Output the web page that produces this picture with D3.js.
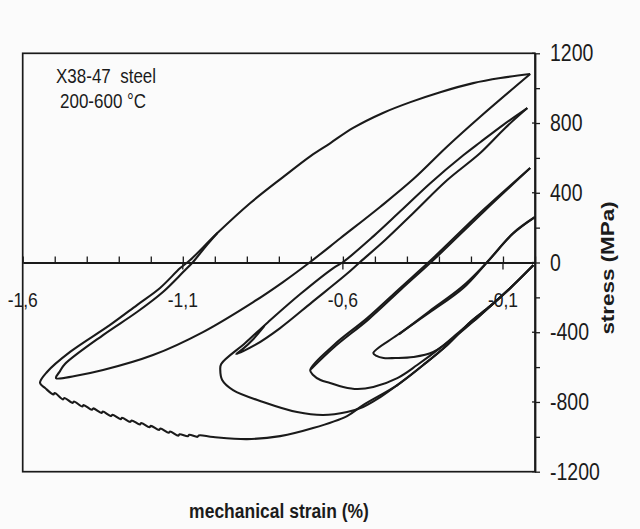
<!DOCTYPE html>
<html>
<head>
<meta charset="utf-8">
<script src="https://cdn.jsdelivr.net/npm/d3@7"></script>
<style>
  body { margin: 0; background: #fbfbfb; }
  svg { display: block; }
  text { font-family: 'Liberation Sans', Arial, sans-serif; fill: #1b1b1b; }
</style>
</head>
<body>
<div id="chart"></div>
<script>
// [strain (%), stress (MPa)]

// largest loop, first cycle: compression from 0, serrated hot branch, then back up to the peak
const loopA = [
  [-0.005, -15], [-0.077, -146], [-0.14, -250], [-0.202, -341], [-0.274, -473],
  [-0.349, -588], [-0.43, -703], [-0.537, -818], [-0.587, -881], [-0.693, -950],
  [-0.796, -996], [-0.899, -1013], [-1.005, -1001],
  [-1.05, -992], [-1.054, -1000], [-1.08, -988], [-1.084, -996], [-1.11, -985],
  [-1.114, -993], [-1.14, -969], [-1.144, -977], [-1.17, -952], [-1.174, -960],
  [-1.2, -937], [-1.204, -945], [-1.23, -921], [-1.234, -929], [-1.26, -906],
  [-1.264, -914], [-1.29, -891], [-1.294, -899], [-1.32, -873], [-1.324, -881],
  [-1.35, -855], [-1.354, -863], [-1.38, -837], [-1.384, -845], [-1.41, -818],
  [-1.414, -826], [-1.44, -797], [-1.444, -805], [-1.47, -777], [-1.474, -785],
  [-1.5, -749], [-1.504, -757], [-1.53, -720], [-1.546, -691],
  [-1.524, -628], [-1.452, -513], [-1.327, -358], [-1.243, -244], [-1.171, -146],
  [-1.108, -32], [-1.077, 14], [-0.992, 169], [-0.89, 340], [-0.787, 490],
  [-0.7, 612], [-0.64, 684], [-0.568, 772], [-0.475, 858], [-0.389, 920],
  [-0.296, 977], [-0.193, 1029], [-0.108, 1058], [-0.015, 1081]
]
// largest loop, second cycle
const loopA2 = [
  [-0.015, 1081], [-0.171, 836], [-0.275, 664], [-0.379, 480], [-0.483, 320],
  [-0.608, 139], [-0.702, 3], [-0.787, -112], [-0.88, -227], [-1.037, -399],
  [-1.193, -531], [-1.349, -617], [-1.437, -651], [-1.496, -663], [-1.483, -622],
  [-1.468, -582], [-1.349, -416], [-1.243, -284], [-1.162, -169], [-1.099, -55],
  [-1.068, 3], [-1.03, 89], [-0.992, 169]
]

const loopB = [
  [-0.005, -15], [-0.077, -146], [-0.14, -250], [-0.202, -341], [-0.274, -473],
  [-0.349, -588], [-0.43, -703], [-0.483, -772], [-0.537, -829], [-0.587, -858],
  [-0.662, -875], [-0.743, -858], [-0.849, -800], [-0.943, -732], [-0.977, -674],
  [-0.983, -617], [-0.98, -582], [-0.905, -462], [-0.833, -341], [-0.733, -181],
  [-0.63, -32], [-0.599, 3], [-0.505, 150], [-0.42, 295], [-0.327, 455],
  [-0.224, 615], [-0.171, 690], [-0.099, 790], [-0.024, 886]
]
const loopB2 = [
  [-0.024, 886], [-0.093, 772], [-0.171, 628], [-0.274, 473], [-0.38, 284],
  [-0.468, 129], [-0.546, 3], [-0.592, -72], [-0.696, -227], [-0.796, -376],
  [-0.874, -473], [-0.933, -525], [-0.915, -500], [-0.88, -440], [-0.845, -364]
]

const loopC = [
  [-0.005, -15], [-0.077, -146], [-0.14, -250], [-0.181, -319], [-0.224, -379],
  [-0.296, -490], [-0.368, -588], [-0.43, -663], [-0.505, -714], [-0.555, -726],
  [-0.599, -714], [-0.64, -691], [-0.67, -674], [-0.693, -645], [-0.702, -617],
  [-0.628, -473], [-0.524, -319], [-0.421, -146], [-0.318, 26], [-0.162, 301],
  [-0.015, 542]
]
const loopC2 = [
  [-0.015, 542], [-0.158, 296], [-0.314, 20], [-0.417, -152], [-0.52, -326],
  [-0.625, -482], [-0.7, -612]
]

const loopD = [
  [-0.005, -15], [-0.077, -146], [-0.181, -319], [-0.243, -416], [-0.318, -513],
  [-0.38, -542], [-0.437, -548], [-0.473, -548], [-0.495, -536], [-0.505, -519],
  [-0.43, -416], [-0.327, -284], [-0.224, -146], [-0.149, 3], [-0.068, 169],
  [0, 261]
]
const loopD2 = [
  [0, 261], [-0.07, 163], [-0.152, -3], [-0.228, -140], [-0.33, -280], [-0.425, -412]
]

const loops = [loopA, loopA2, loopB, loopB2, loopC, loopC2, loopD, loopD2]

const strainTicks = [-1.6, -1.5, -1.4, -1.3, -1.2, -1.1, -1.0, -0.9, -0.8,
  -0.7, -0.6, -0.5, -0.4, -0.3, -0.2, -0.1, 0]
const strainLabels = [-1.6, -1.1, -0.6, -0.1]
const stressTicks = [-1200, -1000, -800, -600, -400, -200, 0, 200, 400, 600, 800, 1000, 1200]
const stressLabels = [-1200, -800, -400, 0, 400, 800, 1200]

const notes = ['X38-47\u00a0 steel', '200-600 \u00b0C']
const xTitle = 'mechanical strain (%)'
const yTitle = 'stress (MPa)'

// layout
const W = 640, H = 529
const margin = { top: 53.3, left: 22.7 },
  width = 512.3,
  height = 418.4
const ink = '#1a1a1a'
const stretch = 'scale(1,1.18)' // the scan is a bit taller than wide

const root = d3.select('#chart').append('svg').attr('width', W).attr('height', H)
const svg = root.append('g').attr('transform', `translate(${margin.left},${margin.top})`)

const x = d3.scaleLinear().domain([-1.6, 0]).range([0, width])
const y = d3.scaleLinear().domain([-1200, 1200]).range([height, 0])

// frame
svg.append('rect')
  .attr('width', width).attr('height', height)
  .attr('fill', 'none').attr('stroke', ink).attr('stroke-width', 1.7)

// strain axis drawn along zero stress
const xAxis = svg.append('g')
  .attr('transform', `translate(0,${y(0)})`)
  .call(d3.axisTop(x).tickValues(strainTicks).tickSize(6).tickSizeOuter(0).tickFormat(''))
xAxis.select('.domain').attr('stroke', ink).attr('stroke-width', 1.8)
xAxis.selectAll('.tick line').attr('stroke', ink).attr('stroke-width', 1.3)

svg.selectAll('.majorx')
  .data(strainLabels.slice(1))
  .join('line')
  .attr('x1', (d) => x(d)).attr('x2', (d) => x(d))
  .attr('y1', y(0)).attr('y2', y(0) + 7)
  .attr('stroke', ink).attr('stroke-width', 1.3)

const comma = (v) => d3.format('.1f')(v).replace('\u2212', '-').replace('.', ',')
svg.selectAll('.xlabel')
  .data(strainLabels)
  .join('text')
  .attr('transform', (d) => `translate(${x(d)},${y(0) + 44.5}) ${stretch}`)
  .attr('text-anchor', 'middle')
  .style('font-size', '17.5px')
  .text(comma)

// stress axis on the right
const yAxis = svg.append('g')
  .attr('transform', `translate(${width},0)`)
  .call(d3.axisRight(y).tickValues(stressTicks).tickSize(5).tickSizeOuter(0).tickFormat(''))
yAxis.select('.domain').attr('stroke', ink).attr('stroke-width', 1.8)
yAxis.selectAll('.tick line').attr('stroke', ink).attr('stroke-width', 1.3)

svg.selectAll('.majory')
  .data(stressLabels)
  .join('line')
  .attr('x1', width - 3).attr('x2', width)
  .attr('y1', (d) => y(d)).attr('y2', (d) => y(d))
  .attr('stroke', ink).attr('stroke-width', 1.3)

svg.selectAll('.ylabel')
  .data(stressLabels)
  .join('text')
  .attr('transform', (d) => `translate(${width + 15},${y(d) + 8}) ${stretch}`)
  .style('font-size', '19.5px')
  .text((d) => String(d))

// loops
const line = d3.line()
  .x((d) => x(d[0]))
  .y((d) => y(d[1]))
  .curve(d3.curveCatmullRom.alpha(0.5))

svg.selectAll('.loop')
  .data(loops)
  .join('path')
  .attr('class', 'loop')
  .attr('d', line)
  .attr('fill', 'none')
  .attr('stroke', ink)
  .attr('stroke-width', 2.1)
  .attr('stroke-linejoin', 'round')

// material note
svg.selectAll('.note')
  .data(notes)
  .join('text')
  .attr('transform', (d, i) => `translate(${i ? 37.3 : 33.3},${i ? 54.7 : 29.7}) ${stretch}`)
  .style('font-size', '17px')
  .text((d) => d)

// axis titles
root.append('text')
  .attr('transform', `translate(279,518) ${stretch}`)
  .attr('text-anchor', 'middle')
  .style('font-size', '17.5px')
  .style('font-weight', 'bold')
  .text(xTitle)

root.append('text')
  .attr('transform', 'translate(614,268) rotate(-90) scale(1.18,1)')
  .attr('text-anchor', 'middle')
  .style('font-size', '19px')
  .style('font-weight', 'bold')
  .text(yTitle)
</script>
</body>
</html>
